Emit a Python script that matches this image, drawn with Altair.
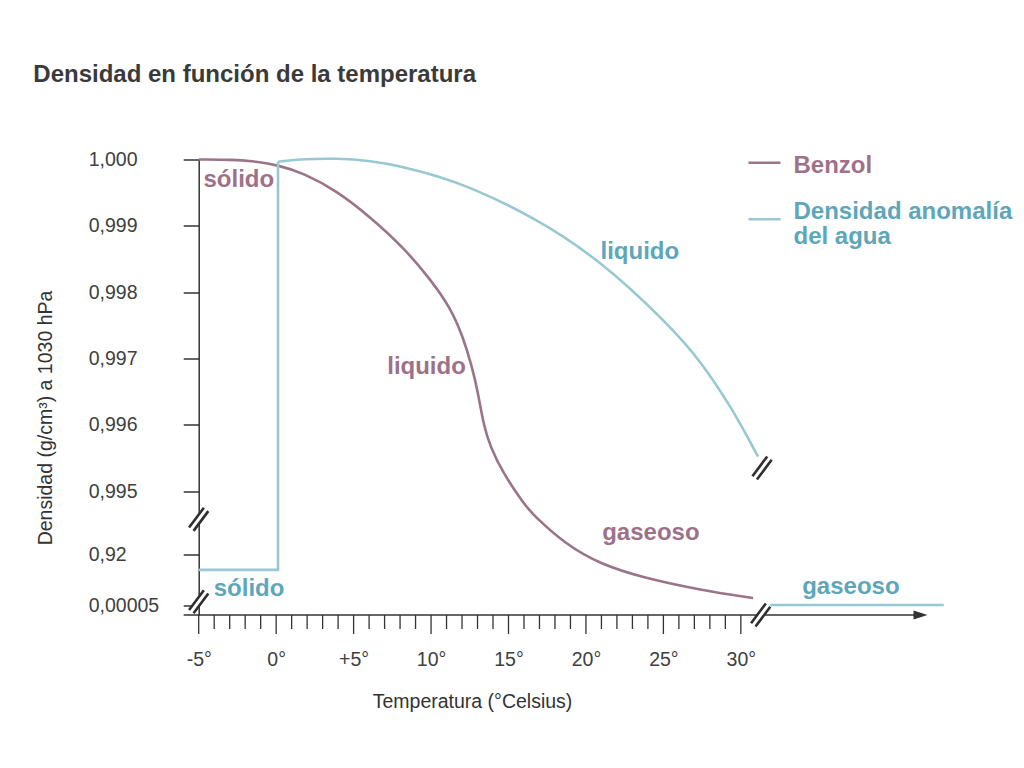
import altair as alt
import pandas as pd

# ---- data (x = temperature in °C, y = position on the broken density axis:
#      0 = 0,995 ; 1 unit = 0,001 g/cm3 ; below 0 the axis is broken) ----
benzol_t = [-5.0, -2.78, -1.68, 0.13, 1.74, 3.94, 6.07, 8.2, 9.94, 11.23, 12.07, 12.65,
            13.04, 13.36, 13.82, 14.65, 15.95, 16.59, 18.79, 20.92, 23.5, 27.37, 30.79]
benzol_y = [5.0, 4.995, 4.982, 4.917, 4.796, 4.525, 4.133, 3.68, 3.198, 2.775, 2.323, 1.87,
            1.478, 1.026, 0.664, 0.271, -0.181, -0.362, -0.824, -1.098, -1.297, -1.493, -1.614]

water_solid_t = [-5.0, 0.12, 0.12]
water_solid_y = [-1.19, -1.19, 4.967]
water_liq_t = [0.12, 1.74, 3.94, 6.07, 8.2, 10.39, 12.52, 16.59, 20.92, 25.24, 27.37, 29.5, 31.11]
water_liq_y = [4.967, 5.008, 5.018, 4.982, 4.891, 4.75, 4.585, 4.137, 3.484, 2.534, 1.976,
               1.222, 0.517]
water_gas_t = [31.9, 43.1]
water_gas_y = [-1.72, -1.72]

y_tick_pos = [5, 4, 3, 2, 1, 0, -0.965, -1.72]
y_tick_labels = ["1,000", "0,999", "0,998", "0,997", "0,996", "0,995", "0,92", "0,00005"]
x_label_pos = [-5, 0, 5, 10, 15, 20, 25, 30]
x_label_text = ["-5°", "0°", "+5°", "10°", "15°", "20°", "25°", "30°"]
x_minor_ticks = [-4, -3, -2, -1, 1, 2, 3, 4, 6, 7, 8, 9, 11, 12, 13, 14, 16, 17, 18, 19,
                 21, 22, 23, 24, 26, 27, 28, 29]

ann_text = ["sólido", "liquido", "gaseoso", "sólido", "liquido", "gaseoso"]
ann_series = ["Benzol", "Benzol", "Benzol", "Agua", "Agua", "Agua"]
ann_t = [-4.69, 7.17, 21.05, -4.03, 20.94, 33.96]
ann_y = [4.585, 1.765, -0.74, -1.584, 3.495, -1.55]

break_t = [-5.0, -5.0, 31.28, 31.37]
break_y = [-0.427, -1.67, -1.87, 0.347]

legend_names = ["Benzol", "Densidad anomalía\ndel agua"]
legend_series = ["Benzol", "Agua"]

# ---- style ----
FONT = "Liberation Sans"
AXIS_C = "#333333"
line_colors = {"Benzol": "#9b7489", "Agua": "#98c8d2"}
text_colors = {"Benzol": "#9d7189", "Agua": "#5ea6b9"}
X_DOM = [-5, 42.05]
Y_DOM = [-1.87, 5]
W = 728.8
H = 455.5

def lab_expr(pos, labels):
    expr = "''"
    for p, l in reversed(list(zip(pos, labels))):
        expr = f"abs(datum.value - ({p})) < 0.001 ? '{l}' : " + expr
    return expr

xaxis = alt.Axis(values=x_label_pos, labelExpr=lab_expr(x_label_pos, x_label_text),
                 domain=False, ticks=False, tickSize=0, grid=False, labelPadding=50,
                 labelBaseline="alphabetic", labelFont=FONT, labelFontSize=19.5,
                 labelColor="#404040", labelOverlap=False, labelFlush=False,
                 title="Temperatura (°Celsius)", titleFont=FONT, titleFontSize=19.5,
                 titleFontWeight="normal", titleColor="#333333", titleX=273.3, titleY=86,
                 titleAlign="center", titleBaseline="middle")
yaxis = alt.Axis(values=y_tick_pos, labelExpr=lab_expr(y_tick_pos, y_tick_labels),
                 domain=True, domainColor=AXIS_C, domainWidth=1.5, ticks=True,
                 tickSize=15.5, tickColor=AXIS_C, tickWidth=1.5, grid=False,
                 labelAlign="left", labelPadding=95, labelBaseline="middle",
                 labelFont=FONT, labelFontSize=19.5, labelColor="#404040",
                 labelOverlap=False, labelFlush=False,
                 title="Densidad (g/cm³) a 1030 hPa", titleFont=FONT, titleFontSize=19.5,
                 titleFontWeight="normal", titleColor="#333333", titleAngle=270,
                 titleX=-153.7, titleY=258, titleAlign="center", titleBaseline="middle")

xs = alt.Scale(domain=X_DOM, nice=False, zero=False)
ys = alt.Scale(domain=Y_DOM, nice=False, zero=False)

def X(f):
    return alt.X(f, type="quantitative", scale=xs, axis=xaxis)

def Y(f):
    return alt.Y(f, type="quantitative", scale=ys, axis=yaxis)

# ---- frames ----
benzol_df = pd.DataFrame({"t": benzol_t, "y": benzol_y})
w_solid_df = pd.DataFrame({"t": water_solid_t, "y": water_solid_y, "o": [0, 1, 2]})
w_liq_df = pd.DataFrame({"t": water_liq_t, "y": water_liq_y})
w_gas_df = pd.DataFrame({"t": water_gas_t, "y": water_gas_y})
major_df = pd.DataFrame({"t": x_label_pos})
minor_df = pd.DataFrame({"t": x_minor_ticks})
xline_df = pd.DataFrame({"t": [-5.97], "t2": [41.3], "y": [Y_DOM[0]]})
arrow_df = pd.DataFrame({"t": [41.6], "y": [Y_DOM[0]]})
break_df = pd.DataFrame({"t": break_t, "y": break_y})
ann_df = pd.DataFrame({"t": ann_t, "y": ann_y, "label": ann_text,
                       "c": [text_colors[s] for s in ann_series]})
leg_df = pd.DataFrame({"t": [30.49, 30.49], "t2": [32.56, 32.56], "y": [4.952, 4.098],
                       "tt": [33.4, 33.4], "ty": [4.801, 4.11], "label": legend_names,
                       "lc": [line_colors[s] for s in legend_series],
                       "c": [text_colors[s] for s in legend_series]})

# ---- layers ----
minor_ticks = alt.Chart(minor_df).mark_rule(color=AXIS_C, strokeWidth=1.3).encode(
    x=X("t"), y=alt.value(H), y2=alt.value(H + 14))
major_ticks = alt.Chart(major_df).mark_rule(color=AXIS_C, strokeWidth=1.3).encode(
    x=X("t"), y=alt.value(H), y2=alt.value(H + 19))
x_line = alt.Chart(xline_df).mark_rule(color=AXIS_C, strokeWidth=1.5).encode(
    x=X("t"), x2="t2", y=Y("y"))
arrow = alt.Chart(arrow_df).mark_point(shape="M -1 -0.65 L 1 0 L -1 0.65 Z", size=196,
                                       filled=True, color=AXIS_C, opacity=1).encode(
    x=X("t"), y=Y("y"))

benzol = alt.Chart(benzol_df).mark_line(color=line_colors["Benzol"], strokeWidth=2.6,
                                        interpolate="basis").encode(x=X("t"), y=Y("y"))
w_solid = alt.Chart(w_solid_df).mark_line(color=line_colors["Agua"], strokeWidth=2.6).encode(
    x=X("t"), y=Y("y"), order="o:Q")
w_liq = alt.Chart(w_liq_df).mark_line(color=line_colors["Agua"], strokeWidth=2.6,
                                      interpolate="basis").encode(x=X("t"), y=Y("y"))
w_gas = alt.Chart(w_gas_df).mark_line(color=line_colors["Agua"], strokeWidth=2.6).encode(
    x=X("t"), y=Y("y"))

break_bg = alt.Chart(break_df).mark_point(shape="M -0.53 0.7 L 0.53 -0.7", size=784,
                                          filled=False, stroke="white", strokeWidth=6,
                                          opacity=1).encode(x=X("t"), y=Y("y"))
break_fg = alt.Chart(break_df).mark_point(
    shape="M -0.688 0.584 L 0.368 -0.824 M -0.368 0.824 L 0.688 -0.584", size=784,
    filled=False, stroke="#2f2f2f", strokeWidth=2.6, opacity=1).encode(x=X("t"), y=Y("y"))

ann = alt.Chart(ann_df).mark_text(align="left", baseline="alphabetic", font=FONT,
                                  fontSize=24, fontWeight="bold").encode(
    x=X("t"), y=Y("y"), text="label", color=alt.Color("c:N", scale=None))

leg_lines = alt.Chart(leg_df).mark_rule(strokeWidth=2.6).encode(
    x=X("t"), x2="t2", y=Y("y"), color=alt.Color("lc:N", scale=None))
leg_text = alt.Chart(leg_df).mark_text(align="left", baseline="alphabetic", font=FONT,
                                       fontSize=24, fontWeight="bold", lineBreak="\n",
                                       lineHeight=25).encode(
    x=X("tt"), y=Y("ty"), text="label", color=alt.Color("c:N", scale=None))

chart = alt.layer(
    minor_ticks, major_ticks, x_line, arrow, benzol, w_solid, w_liq, w_gas,
    break_bg, break_fg, ann, leg_lines, leg_text
).properties(
    width=W, height=H,
    title=alt.TitleParams("Densidad en función de la temperatura", anchor="start",
                          frame="group", dx=-165.4, offset=44, baseline="alphabetic",
                          font=FONT, fontSize=24, fontWeight="bold", color="#3a3a3a"),
    autosize="none",
    padding={"left": 190.7, "top": 151.5, "right": 86, "bottom": 110},
    background="white",
).configure_view(stroke="transparent")

chart.save("out.html", embed_options={"renderer": "svg", "actions": False})
